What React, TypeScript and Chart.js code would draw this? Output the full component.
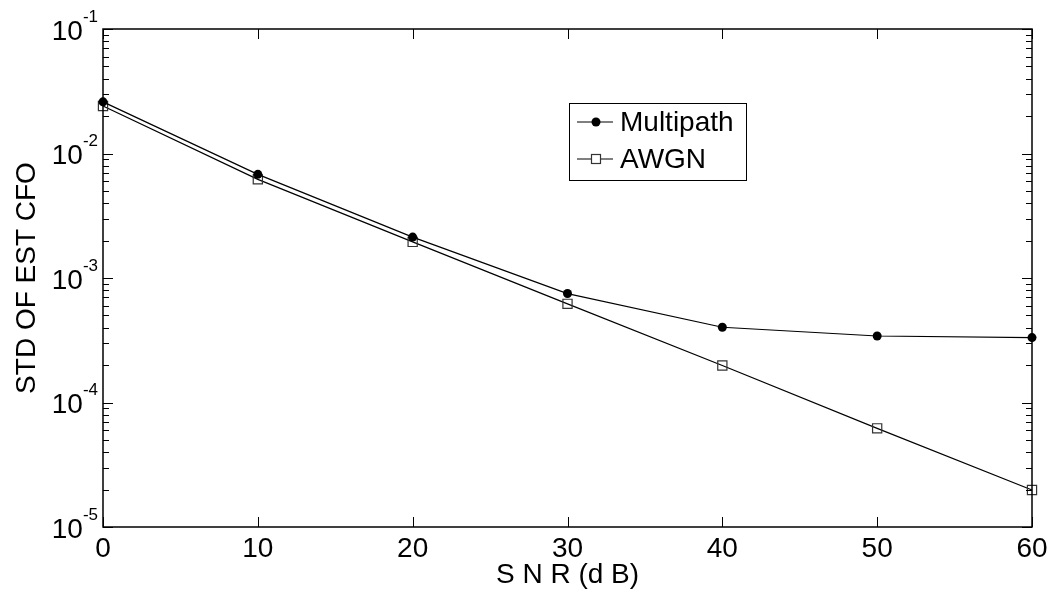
import React, { useEffect, useRef } from "react";
import { Chart, registerables } from "chart.js";

Chart.register(...registerables);

const snr = [0, 10, 20, 30, 40, 50, 60];
const multipath = [0.026, 0.0068, 0.00213, 0.00075, 0.000402, 0.000342, 0.000332];
const awgn = [0.0241, 0.0062, 0.00195, 0.00062, 0.000198, 0.000062, 0.0000198];
const xTicks = [0, 10, 20, 30, 40, 50, 60];
const yExponents = [-1, -2, -3, -4, -5];
const seriesNames = ["Multipath", "AWGN"];
const xTitle = "S N R (d B)";
const yTitle = "STD OF EST CFO";

const FONT = "'Liberation Sans', Arial, sans-serif";

const framePlugin = {
  id: "matlabFrame",
  afterDraw(chart: any) {
    const ctx = chart.ctx as CanvasRenderingContext2D;
    const { left, right, top, bottom } = chart.chartArea;
    const xs = chart.scales.x;
    const ys = chart.scales.y;
    ctx.save();
    // axes box
    ctx.strokeStyle = "#000";
    ctx.lineWidth = 1.5;
    ctx.strokeRect(left, top, right - left, bottom - top);

    // x ticks (inward, top and bottom)
    ctx.lineWidth = 1;
    ctx.beginPath();
    for (const v of xTicks) {
      const px = Math.round(xs.getPixelForValue(v)) + 0.5;
      ctx.moveTo(px, bottom);
      ctx.lineTo(px, bottom - 10);
      ctx.moveTo(px, top);
      ctx.lineTo(px, top + 10);
    }
    // y ticks major + minor
    const minE = Math.min(...yExponents);
    const maxE = Math.max(...yExponents);
    for (let e = minE; e <= maxE; e++) {
      for (let m = 1; m <= 9; m++) {
        if (e === maxE && m > 1) break;
        const v = m * Math.pow(10, e);
        const py = Math.round(ys.getPixelForValue(v)) + 0.5;
        const len = m === 1 ? 10 : 6;
        ctx.moveTo(left, py);
        ctx.lineTo(left + len, py);
        ctx.moveTo(right, py);
        ctx.lineTo(right - len, py);
      }
    }
    ctx.stroke();

    // x tick labels
    ctx.fillStyle = "#000";
    ctx.font = `28px ${FONT}`;
    ctx.textAlign = "center";
    ctx.textBaseline = "alphabetic";
    for (const v of xTicks) {
      ctx.fillText(String(v), xs.getPixelForValue(v), bottom + 30);
    }
    // y tick labels with superscript
    for (const e of yExponents) {
      const py = ys.getPixelForValue(Math.pow(10, e));
      ctx.font = `17px ${FONT}`;
      ctx.textAlign = "right";
      const expText = String(e);
      const expW = ctx.measureText(expText).width;
      const expRight = left - 5;
      ctx.fillText(expText, expRight, py - 7.5);
      ctx.font = `28px ${FONT}`;
      ctx.fillText("10", expRight - expW, py + 10.5);
    }
    // axis titles
    ctx.font = `28px ${FONT}`;
    ctx.textAlign = "center";
    ctx.fillText(xTitle, (left + right) / 2, bottom + 56);
    ctx.save();
    ctx.translate(35, (top + bottom) / 2);
    ctx.rotate(-Math.PI / 2);
    ctx.fillText(yTitle, 0, 0);
    ctx.restore();

    // legend
    const lx = 569.5, ly = 103.5, lw = 177, lh = 77;
    ctx.fillStyle = "#fff";
    ctx.fillRect(lx, ly, lw, lh);
    ctx.strokeStyle = "#000";
    ctx.lineWidth = 1;
    ctx.strokeRect(lx, ly, lw, lh);
    const rows = [122, 159];
    seriesNames.forEach((name, i) => {
      const y = rows[i];
      ctx.strokeStyle = "#000";
      ctx.lineWidth = 1.2;
      ctx.beginPath();
      ctx.moveTo(577, y);
      ctx.lineTo(613, y);
      ctx.stroke();
      if (i === 0) {
        ctx.fillStyle = "#000";
        ctx.beginPath();
        ctx.arc(596, y, 4.5, 0, Math.PI * 2);
        ctx.fill();
      } else {
        ctx.fillStyle = "#fff";
        ctx.fillRect(591.5, y - 4.5, 9, 9);
        ctx.strokeStyle = "#333";
        ctx.strokeRect(591.5, y - 4.5, 9, 9);
      }
      ctx.fillStyle = "#000";
      ctx.font = `28px ${FONT}`;
      ctx.textAlign = "left";
      ctx.textBaseline = "middle";
      ctx.fillText(name, 620, y + 1);
      ctx.textBaseline = "alphabetic";
    });
    ctx.restore();
  },
};

export default function App() {
  const ref = useRef<HTMLCanvasElement | null>(null);
  useEffect(() => {
    if (!ref.current) return;
    const chart = new Chart(ref.current, {
      type: "line",
      data: {
        datasets: [
          {
            label: seriesNames[0],
            data: snr.map((x, i) => ({ x, y: multipath[i] })),
            borderColor: "#000",
            backgroundColor: "#000",
            borderWidth: 1.2,
            pointStyle: "circle",
            pointRadius: 4.5,
            pointBorderWidth: 0,
            pointBackgroundColor: "#000",
            tension: 0,
            clip: false as any,
          },
          {
            label: seriesNames[1],
            data: snr.map((x, i) => ({ x, y: awgn[i] })),
            borderColor: "#000",
            backgroundColor: "rgba(0,0,0,0)",
            borderWidth: 1.2,
            pointStyle: "rect",
            pointRadius: 6.5,
            pointBorderWidth: 1.2,
            pointBorderColor: "#333",
            pointBackgroundColor: "rgba(0,0,0,0)",
            tension: 0,
            clip: false as any,
          },
        ],
      },
      options: {
        responsive: false,
        animation: false,
        layout: { padding: { left: 103, right: 22, top: 29, bottom: 68 } },
        plugins: { legend: { display: false }, tooltip: { enabled: false } },
        scales: {
          x: { type: "linear", min: 0, max: 60, display: false },
          y: { type: "logarithmic", min: 1e-5, max: 1e-1, display: false },
        },
      },
      plugins: [framePlugin],
    });
    return () => chart.destroy();
  }, []);
  return (
    <div style={{ position: "fixed", left: 0, top: 0, width: 1054, height: 595, background: "#fff" }}>
      <canvas ref={ref} width={1054} height={595} />
    </div>
  );
}
